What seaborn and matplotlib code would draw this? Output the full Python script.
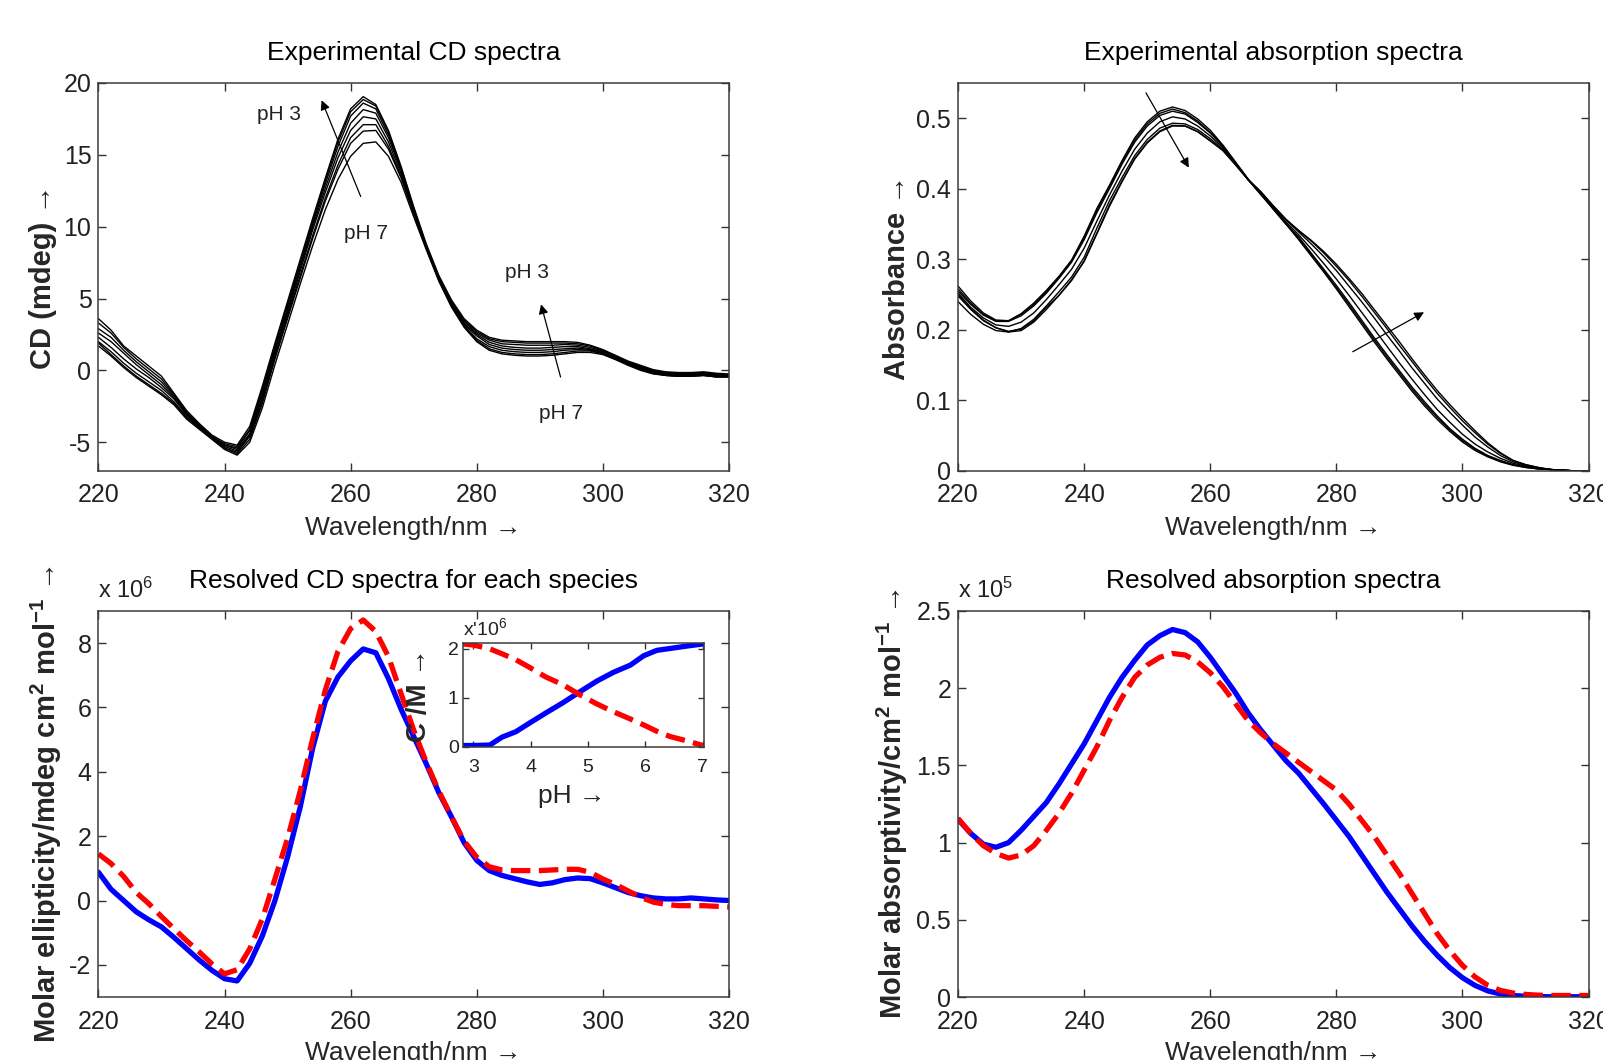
import numpy as np
import pandas as pd
import matplotlib
matplotlib.use("Agg")
import matplotlib.pyplot as plt
from matplotlib import font_manager
import seaborn as sns

# ---------------------------------------------------------------- data
# wavelength grid of all spectra (nm)
wavelength = np.arange(220, 321, 2)

# experimental CD spectra (mdeg), pH 3 ... pH 7
cd_ph30 = [3.6, 2.8, 1.7, 1.0, 0.3, -0.4, -1.6, -2.8, -3.7, -4.5, -5.0, -5.2, -3.9, -1.1, 1.9, 4.8, 7.7, 10.6, 13.4, 16.1,
           18.2, 19.05, 18.5, 16.7, 14.2, 11.4, 8.8, 6.6, 4.9, 3.6, 2.8, 2.3, 2.1, 2.05, 2.0, 2.0, 2.0, 2.0, 1.95, 1.75,
           1.45, 1.05, 0.65, 0.35, 0.05, -0.1, -0.15, -0.15, -0.1, -0.2, -0.25]
cd_ph35 = [3.3, 2.6, 1.6, 0.8, 0.1, -0.6, -1.7, -2.9, -3.8, -4.6, -5.1, -5.3, -4.1, -1.3, 1.7, 4.6, 7.5, 10.4, 13.2, 15.9,
           18.0, 18.85, 18.4, 16.6, 14.1, 11.3, 8.7, 6.5, 4.8, 3.5, 2.7, 2.2, 2.0, 1.95, 1.9, 1.9, 1.9, 1.9, 1.85, 1.7,
           1.4, 1.0, 0.6, 0.3, 0.0, -0.15, -0.2, -0.2, -0.15, -0.25, -0.3]
cd_ph40 = [2.9, 2.3, 1.4, 0.6, -0.1, -0.8, -1.8, -3.0, -3.8, -4.6, -5.2, -5.4, -4.2, -1.5, 1.5, 4.4, 7.3, 10.2, 13.0, 15.6,
           17.7, 18.6, 18.2, 16.4, 14.0, 11.2, 8.6, 6.4, 4.7, 3.4, 2.6, 2.1, 1.85, 1.8, 1.75, 1.75, 1.75, 1.8, 1.75, 1.6,
           1.35, 0.95, 0.55, 0.25, -0.05, -0.2, -0.25, -0.25, -0.2, -0.3, -0.3]
cd_ph45 = [2.6, 2.0, 1.2, 0.4, -0.3, -1.0, -1.9, -3.0, -3.9, -4.6, -5.2, -5.5, -4.4, -1.7, 1.3, 4.2, 7.1, 10.0, 12.7, 15.2,
           17.2, 18.15, 17.9, 16.2, 13.9, 11.1, 8.6, 6.4, 4.6, 3.3, 2.5, 1.95, 1.7, 1.6, 1.55, 1.55, 1.6, 1.65, 1.65, 1.5,
           1.3, 0.9, 0.5, 0.2, -0.1, -0.25, -0.3, -0.3, -0.25, -0.35, -0.35]
cd_ph50 = [2.3, 1.6, 0.8, 0.1, -0.5, -1.2, -2.0, -3.1, -3.9, -4.7, -5.3, -5.6, -4.5, -1.9, 1.1, 4.0, 6.9, 9.8, 12.4, 14.8,
           16.7, 17.65, 17.5, 15.9, 13.7, 11.1, 8.6, 6.4, 4.6, 3.2, 2.4, 1.8, 1.55, 1.45, 1.4, 1.4, 1.45, 1.5, 1.55, 1.45,
           1.25, 0.9, 0.5, 0.15, -0.15, -0.3, -0.35, -0.35, -0.3, -0.4, -0.4]
cd_ph55 = [2.0, 1.3, 0.5, -0.2, -0.8, -1.4, -2.2, -3.2, -4.0, -4.7, -5.4, -5.7, -4.6, -2.1, 0.9, 3.8, 6.6, 9.4, 12.0, 14.3,
           16.2, 17.1, 17.1, 15.6, 13.5, 11.0, 8.5, 6.3, 4.5, 3.1, 2.2, 1.65, 1.4, 1.3, 1.25, 1.25, 1.3, 1.4, 1.45, 1.4,
           1.2, 0.85, 0.45, 0.1, -0.2, -0.35, -0.4, -0.4, -0.35, -0.45, -0.45]
cd_ph60 = [1.9, 1.1, 0.3, -0.4, -1.0, -1.6, -2.3, -3.3, -4.0, -4.7, -5.4, -5.8, -4.8, -2.3, 0.8, 3.6, 6.4, 9.2, 11.8, 14.0,
           15.8, 16.65, 16.7, 15.4, 13.4, 10.9, 8.5, 6.3, 4.5, 3.1, 2.1, 1.5, 1.25, 1.15, 1.1, 1.1, 1.15, 1.25, 1.35, 1.35,
           1.15, 0.8, 0.4, 0.05, -0.2, -0.35, -0.4, -0.4, -0.35, -0.45, -0.45]
cd_ph70 = [1.7, 1.0, 0.2, -0.5, -1.1, -1.7, -2.4, -3.4, -4.1, -4.8, -5.5, -5.9, -5.0, -2.6, 0.4, 3.2, 6.0, 8.7, 11.2, 13.3,
           14.9, 15.8, 15.9, 14.9, 13.1, 10.7, 8.4, 6.2, 4.4, 3.0, 2.0, 1.4, 1.15, 1.05, 1.0, 1.0, 1.05, 1.15, 1.25, 1.25,
           1.1, 0.75, 0.35, 0.0, -0.25, -0.35, -0.4, -0.4, -0.35, -0.45, -0.45]
cd_spectra = [cd_ph30, cd_ph35, cd_ph40, cd_ph45, cd_ph50, cd_ph55, cd_ph60, cd_ph70]

# experimental absorption spectra, pH 3 ... pH 7
abs_ph30 = [.258, .238, .222, .213, .213, .223, .238, .256, .276, .299, .333, .372, .405, .440, .472, .495, .510, .516,
            .511, .499, .483, .462, .438, .414, .393, .371, .350, .328, .305, .282, .258, .233, .208, .183, .159, .136,
            .113, .092, .073, .056, .041, .029, .020, .013, .008, .005, .003, .002, .001, .000, .000]
abs_ph35 = [.262, .241, .224, .214, .213, .222, .236, .254, .275, .298, .331, .369, .403, .438, .469, .492, .507, .513,
            .508, .496, .480, .461, .437, .413, .392, .371, .350, .330, .307, .284, .260, .236, .211, .186, .162, .139,
            .116, .095, .076, .058, .043, .031, .021, .014, .009, .005, .003, .002, .001, .000, .000]
abs_ph40 = [.255, .236, .221, .212, .212, .220, .234, .252, .273, .296, .328, .366, .400, .435, .466, .489, .504, .510,
            .506, .494, .479, .460, .437, .413, .392, .372, .351, .332, .309, .286, .263, .239, .214, .189, .165, .142,
            .119, .098, .078, .060, .045, .032, .022, .015, .009, .006, .003, .002, .001, .000, .000]
abs_ph50 = [.252, .232, .217, .207, .205, .211, .224, .243, .264, .286, .316, .354, .391, .425, .456, .479, .495, .502,
            .499, .489, .475, .458, .436, .413, .393, .373, .353, .335, .315, .294, .272, .249, .225, .201, .177, .153,
            .130, .108, .087, .069, .052, .038, .027, .018, .011, .007, .004, .002, .001, .000, .000]
abs_ph60 = [.240, .222, .208, .199, .197, .202, .215, .234, .254, .275, .303, .344, .383, .416, .447, .470, .486, .493,
            .492, .484, .471, .456, .435, .413, .395, .375, .356, .339, .322, .304, .284, .262, .240, .217, .193, .170,
            .146, .124, .102, .083, .065, .048, .034, .022, .013, .008, .004, .002, .001, .000, .000]
abs_ph65 = [.250, .230, .214, .203, .197, .199, .211, .229, .249, .270, .298, .337, .377, .411, .442, .465, .481, .489,
            .489, .481, .468, .454, .434, .413, .396, .376, .357, .341, .326, .309, .290, .270, .248, .225, .202, .178,
            .155, .132, .110, .090, .071, .054, .038, .025, .015, .009, .005, .002, .001, .000, .000]
abs_ph70 = [.248, .229, .213, .203, .198, .201, .213, .232, .249, .271, .297, .336, .375, .410, .443, .466, .482, .490,
            .489, .481, .468, .455, .434, .413, .396, .375, .356, .341, .327, .311, .293, .273, .252, .229, .206, .183,
            .159, .136, .114, .094, .075, .057, .040, .026, .015, .009, .005, .002, .001, .000, .000]
abs_spectra = [abs_ph30, abs_ph35, abs_ph40, abs_ph50, abs_ph60, abs_ph65, abs_ph70]

# resolved molar ellipticity (x 10^6): acidic form (red) and basic form (blue)
cd_acid = [1.45, 1.15, 0.75, 0.25, -0.1, -0.5, -0.88, -1.25, -1.6, -1.97, -2.28, -2.15, -1.5, -0.57, 0.67, 1.93, 3.4,
           5.05, 6.55, 7.75, 8.45, 8.72, 8.36, 7.58, 6.43, 5.3, 4.3, 3.4, 2.6, 1.85, 1.35, 1.05, 0.95, 0.93, 0.93, 0.93,
           0.95, 0.97, 0.97, 0.88, 0.67, 0.5, 0.3, 0.1, -0.05, -0.12, -0.16, -0.16, -0.16, -0.18, -0.2]
cd_base = [0.88, 0.35, 0.0, -0.35, -0.6, -0.82, -1.15, -1.5, -1.85, -2.17, -2.43, -2.5, -1.95, -1.1, 0.0, 1.35, 2.9,
           4.75, 6.2, 6.95, 7.45, 7.82, 7.7, 6.9, 5.95, 5.1, 4.25, 3.35, 2.6, 1.8, 1.25, 0.93, 0.78, 0.68, 0.58, 0.5,
           0.55, 0.65, 0.7, 0.68, 0.55, 0.4, 0.25, 0.15, 0.08, 0.05, 0.05, 0.08, 0.05, 0.02, 0.0]

# resolved molar absorptivity (x 10^5)
eps_acid = [1.156, 1.06, 0.98, 0.93, 0.90, 0.92, 0.98, 1.08, 1.19, 1.32, 1.47, 1.62, 1.79, 1.94, 2.07, 2.15, 2.20, 2.225,
            2.215, 2.17, 2.10, 2.01, 1.90, 1.79, 1.71, 1.64, 1.58, 1.52, 1.46, 1.40, 1.34, 1.25, 1.145, 1.04, 0.92,
            0.80, 0.67, 0.54, 0.41, 0.30, 0.205, 0.13, 0.076, 0.043, 0.026, 0.017, 0.012, 0.01, 0.01, 0.01, 0.01]
eps_base = [1.15, 1.06, 0.99, 0.97, 1.0, 1.08, 1.17, 1.26, 1.38, 1.51, 1.64, 1.79, 1.94, 2.07, 2.18, 2.28, 2.34, 2.38,
            2.36, 2.30, 2.20, 2.085, 1.97, 1.84, 1.73, 1.63, 1.53, 1.45, 1.35, 1.25, 1.145, 1.04, 0.92, 0.80, 0.68, 0.57,
            0.46, 0.36, 0.27, 0.19, 0.125, 0.075, 0.04, 0.02, 0.01, 0.005, 0.003, 0.002, 0.002, 0.002, 0.002]

# concentration profiles (x 10^-6 M) versus pH
ph_values = [2.82, 3.0, 3.29, 3.5, 3.74, 3.97, 4.26, 4.56, 4.85, 5.15, 5.44, 5.74, 5.97, 6.2, 6.44, 6.74, 7.0]
conc_acid = [2.1, 2.08, 2.0, 1.9, 1.78, 1.63, 1.43, 1.27, 1.07, 0.88, 0.72, 0.57, 0.45, 0.32, 0.21, 0.12, 0.03]
conc_base = [0.03, 0.03, 0.04, 0.2, 0.31, 0.48, 0.69, 0.9, 1.12, 1.34, 1.52, 1.67, 1.86, 1.97, 2.01, 2.06, 2.1]

# ---------------------------------------------------------------- style
sns.set_theme(style="white")
_names = {f.name for f in font_manager.fontManager.ttflist}
NARROW = "Liberation Sans Narrow" if "Liberation Sans Narrow" in _names else "Liberation Sans"
plt.rcParams.update({
    "font.family": ["Liberation Sans", "DejaVu Sans"],
    "axes.unicode_minus": False,
    "mathtext.fontset": "custom",
    "mathtext.rm": "Liberation Sans",
    "mathtext.bf": "Liberation Sans:bold",
    "mathtext.it": "Liberation Sans:italic",
    "xtick.direction": "in", "ytick.direction": "in",
    "xtick.top": True, "ytick.right": True,
    "xtick.bottom": True, "ytick.left": True,
    "xtick.major.size": 6, "ytick.major.size": 6,
    "xtick.major.width": 1.0, "ytick.major.width": 1.0,
    "xtick.color": "#333333", "ytick.color": "#333333",
    "axes.edgecolor": "#3c3c3c", "axes.linewidth": 1.1,
    "axes.facecolor": "white", "figure.facecolor": "white",
})

BLUE, RED = "#0000ff", "#ff0000"

fig = plt.figure(figsize=(16.03, 10.60), dpi=100)
ax_cd = fig.add_axes([0.0614, 0.5557, 0.3933, 0.366])
ax_abs = fig.add_axes([0.5977, 0.5557, 0.3933, 0.366])
ax_rcd = fig.add_axes([0.0614, 0.0594, 0.3933, 0.3642])
ax_rabs = fig.add_axes([0.5977, 0.0594, 0.3933, 0.3642])
ax_in = fig.add_axes([0.2888, 0.2953, 0.1503, 0.0981])


def frame(ax, ylim, yticks, yticklabels, size=18):
    ax.set_xlim(220, 320)
    ax.set_ylim(*ylim)
    ax.set_xticks([220, 240, 260, 280, 300, 320])
    ax.set_yticks(yticks)
    ax.set_yticklabels(yticklabels)
    ax.tick_params(axis="both", labelsize=size, labelfontfamily=NARROW, labelcolor="#222222")
    ax.tick_params(axis="x", pad=9)
    ax.tick_params(axis="y", pad=5)
    for s in ax.spines.values():
        s.set_visible(True)


def labels(ax, title, ylabel, ylab_x):
    ax.set_title(title, fontsize=19, pad=16.5, color="black")
    ax.set_xlabel("Wavelength/nm →", fontsize=19)
    ax.xaxis.set_label_coords(0.5, -0.115)
    ax.set_ylabel(ylabel, fontsize=21, fontweight="bold")
    ax.yaxis.set_label_coords(ylab_x, 0.5)


# experimental CD
cd_long = pd.DataFrame({
    "wavelength": np.tile(wavelength, len(cd_spectra)),
    "cd": np.concatenate(cd_spectra),
    "curve": np.repeat(np.arange(len(cd_spectra)), len(wavelength)),
})
sns.lineplot(data=cd_long, x="wavelength", y="cd", units="curve", estimator=None,
             color="black", lw=1.0, ax=ax_cd, legend=False)
frame(ax_cd, (-7, 20), [-5, 0, 5, 10, 15, 20], ["-5", "0", "5", "10", "15", "20"])
labels(ax_cd, "Experimental CD spectra", "CD (mdeg) →", -0.065)
arrow = dict(arrowstyle="-|>", color="black", lw=0.9, mutation_scale=14, shrinkA=0, shrinkB=0)
ax_cd.annotate("", xy=(255.4, 18.8), xytext=(261.6, 12.1), arrowprops=arrow)
ax_cd.annotate("", xy=(290.2, 4.6), xytext=(293.3, -0.46), arrowprops=arrow)
for txt, (x, y) in [("pH 3", (248.7, 17.8)), ("pH 7", (262.5, 9.5)),
                    ("pH 3", (288.0, 6.8)), ("pH 7", (293.3, -3.0))]:
    ax_cd.text(x, y, txt, ha="center", va="center", fontsize=15, family=NARROW, color="#222222")

# experimental absorption
abs_long = pd.DataFrame({
    "wavelength": np.tile(wavelength, len(abs_spectra)),
    "absorbance": np.concatenate(abs_spectra),
    "curve": np.repeat(np.arange(len(abs_spectra)), len(wavelength)),
})
sns.lineplot(data=abs_long, x="wavelength", y="absorbance", units="curve", estimator=None,
             color="black", lw=1.0, ax=ax_abs, legend=False)
frame(ax_abs, (0, 0.55), [0, 0.1, 0.2, 0.3, 0.4, 0.5], ["0", "0.1", "0.2", "0.3", "0.4", "0.5"])
labels(ax_abs, "Experimental absorption spectra", "Absorbance →", -0.075)
ax_abs.annotate("", xy=(256.6, 0.43), xytext=(249.8, 0.536), arrowprops=arrow)
ax_abs.annotate("", xy=(293.9, 0.225), xytext=(282.6, 0.169), arrowprops=arrow)

# resolved CD spectra
sns.lineplot(x=wavelength, y=cd_base, color=BLUE, lw=3.8, ax=ax_rcd)
sns.lineplot(x=wavelength, y=cd_acid, color=RED, lw=3.8, linestyle="--", ax=ax_rcd)
frame(ax_rcd, (-3, 9), [-2, 0, 2, 4, 6, 8], ["-2", "0", "2", "4", "6", "8"])
labels(ax_rcd, "Resolved CD spectra for each species",
       r"Molar ellipticity/mdeg cm$^{\mathbf{2}}$ mol$^{\mathbf{-1}}$ →", -0.055)
ax_rcd.text(0.0, 1.02, r"x 10$^{6}$", transform=ax_rcd.transAxes, ha="left", va="bottom",
            fontsize=17, family=NARROW, color="#222222")

# resolved absorption spectra
sns.lineplot(x=wavelength, y=eps_base, color=BLUE, lw=3.8, ax=ax_rabs)
sns.lineplot(x=wavelength, y=eps_acid, color=RED, lw=3.8, linestyle="--", ax=ax_rabs)
frame(ax_rabs, (0, 2.5), [0, 0.5, 1, 1.5, 2, 2.5], ["0", "0.5", "1", "1.5", "2", "2.5"])
labels(ax_rabs, "Resolved absorption spectra",
       r"Molar absorptivity/cm$^{\mathbf{2}}$ mol$^{\mathbf{-1}}$ →", -0.076)
ax_rabs.text(0.0, 1.02, r"x 10$^{5}$", transform=ax_rabs.transAxes, ha="left", va="bottom",
             fontsize=17, family=NARROW, color="#222222")

# inset: species concentrations versus pH
sns.lineplot(x=ph_values, y=conc_base, color=BLUE, lw=3.8, ax=ax_in)
sns.lineplot(x=ph_values, y=conc_acid, color=RED, lw=3.8, linestyle="--", ax=ax_in)
ax_in.set_xlim(2.82, 7.02)
ax_in.set_ylim(0, 2.12)
ax_in.set_xticks([3, 4, 5, 6, 7])
ax_in.set_yticks([0, 1, 2])
ax_in.set_yticklabels(["0", "1", "2"])
ax_in.tick_params(axis="both", labelsize=14, labelfontfamily=NARROW, labelcolor="#222222", length=4)
ax_in.tick_params(axis="x", pad=9)
ax_in.tick_params(axis="y", pad=3)
ax_in.set_xlabel("pH →", fontsize=19)
ax_in.xaxis.set_label_coords(0.45, -0.36)
ax_in.set_ylabel("C /M →", fontsize=20, fontweight="bold")
ax_in.yaxis.set_label_coords(-0.13, 0.5)
ax_in.text(0.0, 1.04, r"x'10$^{6}$", transform=ax_in.transAxes, ha="left", va="bottom",
           fontsize=14, family=NARROW, color="#222222")

fig.savefig("out.png", dpi=100)
